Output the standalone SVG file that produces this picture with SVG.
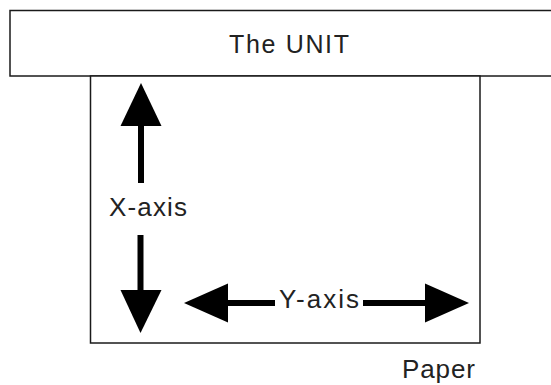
<svg xmlns="http://www.w3.org/2000/svg" width="551" height="385" viewBox="0 0 551 385">
<style>
.box{fill:#fff;stroke:#1a1a1a;stroke-width:1.5}
.lbl{font-family:"Liberation Sans",Arial,sans-serif;font-size:26px;fill:#222}
.shaft{stroke:#000;stroke-width:6;fill:none}
.head{fill:#000}
</style>
<rect width="551" height="385" fill="#fff"/>
<g id="unit">
<rect class="box" x="10" y="10.5" width="560" height="65.5"/>
<text class="lbl" x="229" y="52.5" textLength="120" lengthAdjust="spacing" style="font-size:25px">The UNIT</text>
</g>
<g id="paper">
<rect class="box" x="90.5" y="76" width="389.5" height="267"/>
<text class="lbl" x="402" y="378" textLength="73" lengthAdjust="spacing">Paper</text>
</g>
<g id="connectors">
<line class="shaft" x1="141" y1="124" x2="141" y2="183"/>
<polygon class="head" points="141,83 120.5,126 161.5,126"/>
<line class="shaft" x1="140.5" y1="235" x2="140.5" y2="292"/>
<polygon class="head" points="140.5,333 120.5,290 161.5,290"/>
<line class="shaft" x1="226" y1="303" x2="275" y2="303"/>
<polygon class="head" points="184,303 228,283.5 228,322.5"/>
<line class="shaft" x1="363" y1="303" x2="427" y2="303"/>
<polygon class="head" points="469,303 425,283.5 425,322.5"/>
</g>
<g id="x-axis-label">
<text class="lbl" x="109" y="215.5" textLength="78" lengthAdjust="spacing">X-axis</text>
</g>
<g id="y-axis-label">
<text class="lbl" x="279" y="308" textLength="80" lengthAdjust="spacing">Y-axis</text>
</g>
</svg>
